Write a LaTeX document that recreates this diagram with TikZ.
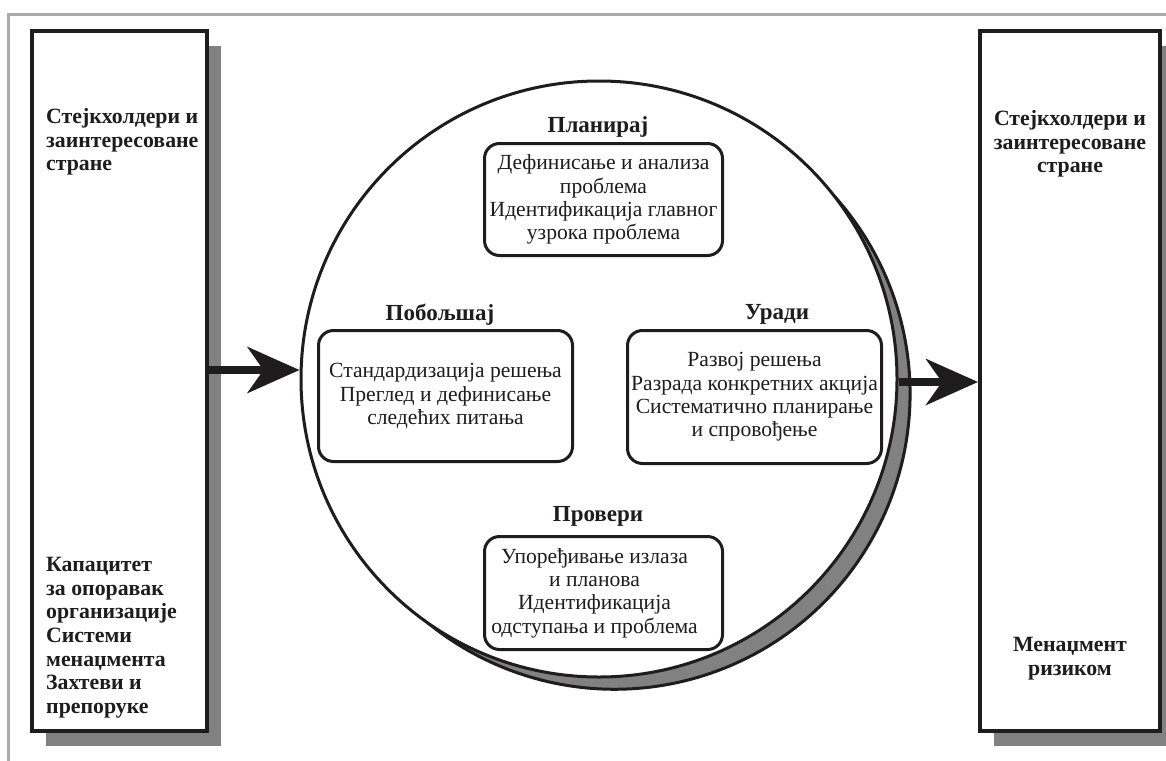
\documentclass[tikz,border=0pt]{standalone}
\usepackage{fontspec}
\setmainfont{Liberation Serif}
\usetikzlibrary{arrows.meta,shadows}

\definecolor{ink}{HTML}{1E1C1C}
\definecolor{framegray}{HTML}{ABABAB}
\definecolor{shadowgray}{HTML}{818181}

\begin{document}
\begin{tikzpicture}[x=1pt,y=-1pt,
  sidebox/.style={draw=ink, line width=4pt, fill=white, inner sep=0pt,
    minimum height=700pt,
    drop shadow={shadow xshift=14pt, shadow yshift=-15pt, fill=shadowgray, opacity=1}},
  sidetext/.style={font=\fontsize{21.8}{23.6}\selectfont\bfseries, text=ink, inner sep=0pt},
  phasetitle/.style={font=\fontsize{23}{24}\selectfont\bfseries, text=ink, inner sep=0pt, anchor=base},
  stepbox/.style={draw=ink, line width=3pt, rounded corners=15pt, fill=white, inner sep=0pt,
    align=center, text=ink, font=\fontsize{21.6}{23.3}\selectfont},
  steptext/.style={align=center, text=ink, inner sep=0pt, font=\fontsize{21.6}{23.3}\selectfont},
  bigarrow/.style={draw=ink, line width=7.5pt,
    -{Stealth[length=52pt, width=46pt, inset=16pt, fill=ink]}}
]
% page and outer frame
\fill[white] (0,0) rectangle (1166,760);
\useasboundingbox (0,0) rectangle (1166,760);
\draw[framegray, line width=3pt] (8.5,14.5) rectangle (1200,800);

% side panels
\node[sidebox, minimum width=175pt] (lbox) at (119.5,381) {};
\node[sidebox, minimum width=180pt] (rbox) at (1070,381) {};

\node[sidetext, align=left, anchor=north west] (ltop) at (46,108.2)
  {Стејкхолдери и\\заинтересоване\\стране};
\node[sidetext, align=left, anchor=north west] (lbot) at (46,557.2)
  {Капацитет\\за опоравак\\организације\\Системи\\менаџмента\\Захтеви и\\препоруке};
\node[sidetext, align=center, anchor=north] (rtop) at (1070,110.2)
  {Стејкхолдери и\\заинтересоване\\стране};
\node[sidetext, align=center, anchor=north] (rbot) at (1070,637.2)
  {Менаџмент\\ризиком};

% crescent shadow of the cycle
\filldraw[fill=shadowgray, draw=ink, line width=3pt, line join=round]
  plot[domain=-38:125, samples=110, smooth]
  ({599+(298+19*sin(1.1043*(\x+38)))*cos(\x)},
   {379+(298+19*sin(1.1043*(\x+38)))*sin(\x)}) -- cycle;

% the cycle
\node[circle, draw=ink, line width=3pt, fill=white, minimum size=596pt, inner sep=0pt]
  (cycle) at (599,379) {};

% phases
\node[phasetitle] (tplan) at (598,132) {Планирај};
\node[stepbox, minimum width=238pt, minimum height=112pt] (plan) at (603.5,199.5)
  {Дефинисање и анализа\\проблема\\Идентификација главног\\узрока проблема};

\node[phasetitle] (tact) at (440,320) {Побољшај};
\node[stepbox, minimum width=254pt, minimum height=131pt] (act) at (445.5,396)
  {Стандардизација решења\\Преглед и дефинисање\\следећих питања};

\node[phasetitle] (tdo) at (777,319) {Уради};
\node[stepbox, minimum width=254pt, minimum height=133pt] (do) at (754.5,397)
  {Развој решења\\Разрада конкретних акција\\Систематично планирање\\и спровођење};

\node[phasetitle] (tcheck) at (598,521) {Провери};
\node[stepbox, minimum width=238pt, minimum height=113pt] (check) at (603.5,593) {};
\node[steptext] (checktext) at ([xshift=-9pt]check.center)
  {Упоређивање излаза\\и планова\\Идентификација\\одступања и проблема};

% flow arrows
\coordinate (la) at (0,370);
\coordinate (ra) at (0,382);
\draw[bigarrow] (lbox.east |- la) -- (cycle.west |- la);
\draw[bigarrow] (cycle.east |- ra) -- (rbox.west |- ra);
\end{tikzpicture}
\end{document}
